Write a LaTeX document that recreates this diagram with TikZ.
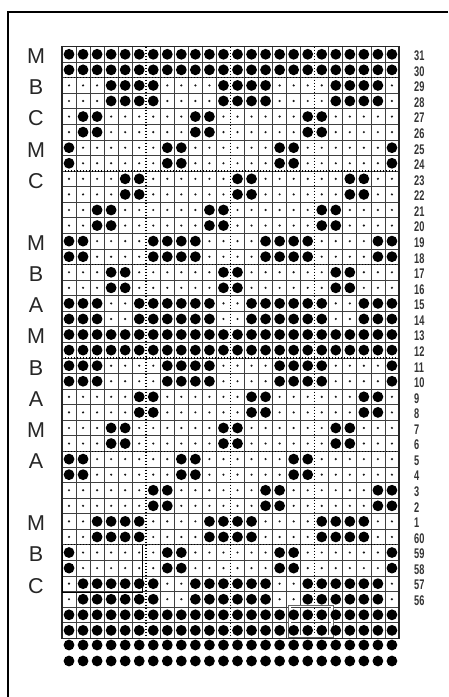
\documentclass[tikz,border=0pt]{standalone}
\usepackage{fontspec}
\setmainfont{Liberation Sans}
\usetikzlibrary{positioning}

% chart geometry (1 unit = 1pt)
\def\gx{62}
\def\gy{46.5}
\def\cw{14.04}
\def\rh{15.57}

\begin{document}
\begin{tikzpicture}[
  x=1pt, y=-1pt,
  gridline/.style={draw=black!75, line width=0.7pt},
  border/.style={draw=black!85, line width=1.1pt},
  sepline/.style={draw=black, line width=1.5pt, dash pattern=on 1.4pt off 1.6pt},
  bigdot/.style={fill=black},
  smalldot/.style={fill=black!90},
  rowlab/.style={font=\fontsize{21.5}{21.5}\selectfont, text=black!85, inner sep=0pt},
  numlab/.style={font=\fontsize{14}{14}\selectfont\bfseries, text=black!80, anchor=west, inner sep=0pt},
  frame/.style={draw=black, line width=1.6pt}
]
\useasboundingbox (0,0) rectangle (448,697);

% page frame
\draw[frame] (448,11.7) -- (8,11.7) -- (8,697);

% grid lines
\foreach \i in {1,...,23} {
  \ifnum\i=6 \else\ifnum\i=12 \else\ifnum\i=18 \else
    \draw[gridline] ({\gx+\cw*\i},\gy) -- ({\gx+\cw*\i},{\gy+\rh*38});
  \fi\fi\fi
}
\foreach \j in {1,...,37} {
  \draw[gridline] (\gx,{\gy+\rh*\j}) -- ({\gx+\cw*24},{\gy+\rh*\j});
}
\foreach \i in {6,12,18}
  \draw[sepline] ({\gx+\cw*\i},\gy) -- ({\gx+\cw*\i},{\gy+\rh*38});
\foreach \j in {2,8,14,20,26,32}
  \draw[sepline] (\gx,{\gy+\rh*\j}) -- ({\gx+\cw*24},{\gy+\rh*\j});
\draw[border] (\gx,\gy) rectangle ({\gx+\cw*24},{\gy+\rh*38});

% pasted-over patches
\draw[black, line width=0.8pt] (62,545) -- (62,592) -- (142,592) -- (142,545);
\draw[white, line width=2pt] (289.5,606) rectangle (332,636);
\draw[black!60, line width=0.5pt] (288,605) rectangle (333,637);

% empty stitches
\foreach \k in {0,...,37}
  \foreach \c in {1,...,24}
    \fill[smalldot] ({\gx+\cw*(\c-0.5)},{\gy+\rh*(\k+0.5)}) circle (1.2);

% filled stitches, one repeat of 8 per pair of rows
\foreach \p/\cols in {0/{1,2,3,4,5,6,7,8}, 1/{4,5,6,7}, 2/{2,3}, 3/{1,8},
    4/{5,6}, 5/{3,4}, 6/{1,2,7,8}, 7/{4,5}, 8/{1,2,3,6,7,8},
    9/{1,2,3,4,5,6,7,8}, 10/{1,2,3,8}, 11/{6,7}, 12/{4,5}, 13/{1,2},
    14/{7,8}, 15/{3,4,5,6}, 16/{1,8}, 17/{2,3,4,5,6,7},
    18/{1,2,3,4,5,6,7,8}} {
  \foreach \c in \cols
    \foreach \m in {0,8,16}
      \foreach \h in {0,1}
        \fill[bigdot] ({\gx+\cw*(\c+\m-0.5)},{\gy+\rh*(2*\p+\h+0.5)}) circle (5.4);
}

% loose rows under the chart
\foreach \y in {645,661}
  \foreach \c in {1,...,24}
    \fill[bigdot] ({\gx+\cw*(\c-0.5)},\y) circle (5.4);

% colour letters
\foreach \k/\t in {0/M, 2/B, 4/C, 6/M, 8/C, 12/M, 14/B, 16/A, 18/M, 20/B,
    22/A, 24/M, 26/A, 30/M, 32/B, 34/C}
  \node[rowlab] (lt-\k) at (36,{\gy+\rh*(\k+0.5)+2}) {\t};

% row numbers
\foreach \k in {0,...,35} {
  \pgfmathtruncatemacro{\n}{\k<31 ? 31-\k : 91-\k}
  \node[numlab] (num-\k) at (414,{\gy+\rh*(\k+0.5)+1.5}) {\scalebox{0.66}[1]{\n}};
}
\end{tikzpicture}
\end{document}
